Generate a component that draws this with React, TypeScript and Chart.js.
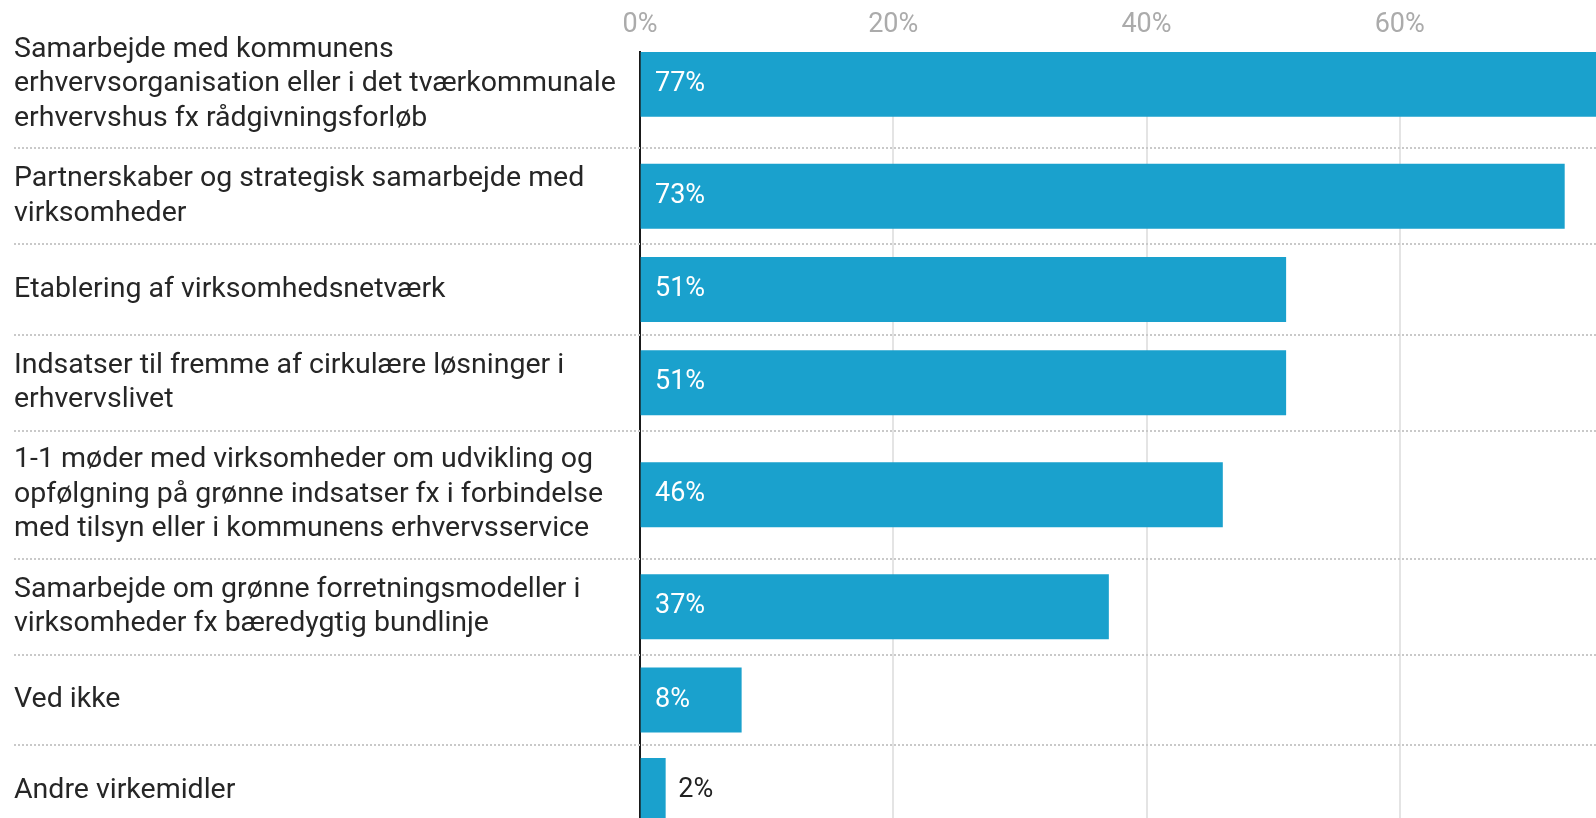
import React, { useEffect, useRef } from "react";
import { Chart, registerables } from "chart.js";

Chart.register(...registerables);

// ---- data ----
const categoryLines: string[][] = [
  ["Samarbejde med kommunens", "erhvervsorganisation eller i det tværkommunale", "erhvervshus fx rådgivningsforløb"],
  ["Partnerskaber og strategisk samarbejde med", "virksomheder"],
  ["Etablering af virksomhedsnetværk"],
  ["Indsatser til fremme af cirkulære løsninger i", "erhvervslivet"],
  ["1-1 møder med virksomheder om udvikling og", "opfølgning på grønne indsatser fx i forbindelse", "med tilsyn eller i kommunens erhvervsservice"],
  ["Samarbejde om grønne forretningsmodeller i", "virksomheder fx bæredygtig bundlinje"],
  ["Ved ikke"],
  ["Andre virkemidler"],
];
const values: number[] = [77, 73, 51, 51, 46, 37, 8, 2];
const xTickValues: number[] = [0, 20, 40, 60, 80];

// ---- layout constants ----
const CANVAS_W = 1693;
const CANVAS_H = 900;
const PLOT_TOP = 52;
const LABEL_LEFT = 14;
const PLOT_LEFT = 640;
const BAR = 64.4;
const BAR_COLOR = "#1aa1cd";
const FONT = "Roboto, 'Noto Sans', sans-serif";

const rowHeight = (n: number) => Math.max(90.5, 32 + 32 * n);
const rowHeights = categoryLines.map((l) => rowHeight(l.length));
const rowTops: number[] = [];
const rowCenters: number[] = [];
{
  let acc = 0;
  rowHeights.forEach((h) => {
    rowTops.push(acc);
    rowCenters.push(acc + h / 2);
    acc += h;
  });
}
const yMin = rowCenters[0] - BAR / 2;
const yMax = yMin + (CANVAS_H - PLOT_TOP);

const separatorPlugin = {
  id: "separators",
  beforeDatasetsDraw(chart: any) {
    const ctx = chart.ctx;
    const ys = chart.scales.y;
    ctx.save();
    ctx.strokeStyle = "#c9c9c9";
    ctx.lineWidth = 2;
    ctx.setLineDash([2, 2]);
    rowTops.forEach((t, i) => {
      const b = t + rowHeights[i];
      const py = Math.round(ys.getPixelForValue(b));
      ctx.beginPath();
      ctx.moveTo(LABEL_LEFT, py);
      ctx.lineTo(chart.width, py);
      ctx.stroke();
    });
    ctx.restore();
  },
};

const valueLabelPlugin = {
  id: "valueLabels",
  afterDatasetsDraw(chart: any) {
    const ctx = chart.ctx;
    const meta = chart.getDatasetMeta(0);
    ctx.save();
    ctx.font = `27px ${FONT}`;
    ctx.textBaseline = "middle";
    ctx.textAlign = "left";
    meta.data.forEach((bar: any, i: number) => {
      const text = `${values[i]}%`;
      const w = ctx.measureText(text).width;
      const len = bar.x - bar.base;
      if (len > w + 28) {
        ctx.fillStyle = "#ffffff";
        ctx.fillText(text, bar.base + 14, bar.y);
      } else {
        ctx.fillStyle = "#222222";
        ctx.fillText(text, bar.x + 13, bar.y);
      }
    });
    ctx.restore();
  },
};

export default function App() {
  const ref = useRef<HTMLCanvasElement | null>(null);

  useEffect(() => {
    if (!ref.current) return;
    const chart = new Chart(ref.current, {
      type: "bar",
      data: {
        datasets: [
          {
            data: values.map((v, i) => ({ x: v, y: rowCenters[i] })) as any,
            backgroundColor: BAR_COLOR,
            borderWidth: 0,
            barThickness: BAR,
          },
        ],
      },
      options: {
        indexAxis: "y",
        animation: false,
        responsive: false,
        devicePixelRatio: 1,
        layout: { padding: { left: LABEL_LEFT, right: 40, top: 0, bottom: 0 } },
        plugins: {
          legend: { display: false },
          tooltip: { enabled: false },
        },
        scales: {
          x: {
            type: "linear",
            position: "top",
            min: 0,
            max: 80,
            offset: false,
            afterBuildTicks: (scale: any) => {
              scale.ticks = xTickValues.map((v) => ({ value: v }));
            },
            afterFit: (scale: any) => {
              scale.height = PLOT_TOP;
            },
            ticks: {
              callback: (v: any) => `${v}%`,
              color: "#ababab",
              font: { family: FONT, size: 27 },
              padding: 11,
              maxRotation: 0,
              autoSkip: false,
            },
            grid: { color: "#e4e4e4", lineWidth: 2, drawTicks: false },
            border: { display: false },
          },
          y: {
            type: "linear",
            reverse: true,
            offset: false,
            min: yMin,
            max: yMax,
            z: 1,
            afterBuildTicks: (scale: any) => {
              scale.ticks = rowCenters.map((v) => ({ value: v }));
            },
            afterFit: (scale: any) => {
              scale.width = PLOT_LEFT - LABEL_LEFT;
              scale.paddingTop = 0;
              scale.paddingBottom = 0;
            },
            ticks: {
              callback: (_v: any, i: number) => categoryLines[i],
              crossAlign: "far",
              color: "#262626",
              font: { family: FONT, size: 28.5, lineHeight: 34.6 / 28.5 },
              autoSkip: false,
              padding: 0,
            },
            grid: { display: false, offset: false },
            border: { display: true, color: "#1a1a1a", width: 2 },
          },
        },
      },
      plugins: [separatorPlugin, valueLabelPlugin],
    } as any);
    return () => chart.destroy();
  }, []);

  return (
    <div
      style={{
        position: "fixed",
        left: 0,
        top: 0,
        width: 1596,
        height: 818,
        overflow: "hidden",
        background: "#fff",
      }}
    >
      <canvas
        ref={ref}
        width={CANVAS_W}
        height={CANVAS_H}
        style={{ display: "block", width: CANVAS_W, height: CANVAS_H }}
      />
    </div>
  );
}
